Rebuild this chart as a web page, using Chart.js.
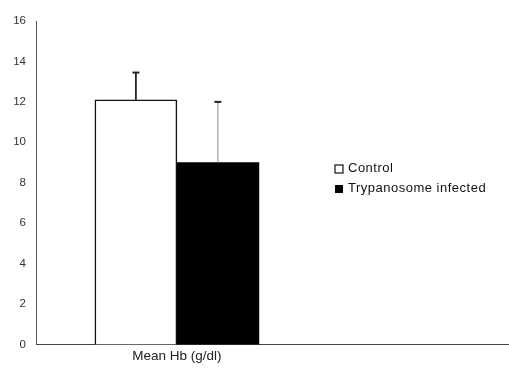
<!DOCTYPE html>
<html>
<head>
<meta charset="utf-8">
<script src="https://cdn.jsdelivr.net/npm/chart.js@4/dist/chart.umd.min.js"></script>
<style>
html,body{margin:0;padding:0;background:#fff;}
#wrap{width:509px;height:368px;position:relative;}
</style>
</head>
<body>
<div id="wrap"><canvas id="c"></canvas></div>
<script>
// ---- data ----
const categories = ["Mean Hb (g/dl)"];
const categoryPos = [1];
const seriesNames = ["Control", "Trypanosome infected"];
const controlValues = [12.1];
const controlErr = [1.35];
const infectedValues = [9.0];
const infectedErr = [3.0];
const yTicks = [0, 2, 4, 6, 8, 10, 12, 14, 16];

const FONT = "'Liberation Sans', Arial, sans-serif";

const errorBars = {
  id: 'errorBars',
  afterDatasetsDraw(chart) {
    const ctx = chart.ctx;
    const y = chart.scales.y;
    chart.data.datasets.forEach((ds, i) => {
      const meta = chart.getDatasetMeta(i);
      meta.data.forEach((bar, j) => {
        const v = ds.data[j].y, e = ds.errors[j];
        const top = y.getPixelForValue(v + e);
        const base = y.getPixelForValue(v);
        ctx.save();
        ctx.strokeStyle = ds.errColor;
        ctx.lineWidth = ds.errWidth;
        ctx.beginPath();
        ctx.moveTo(bar.x, base);
        ctx.lineTo(bar.x, top);
        ctx.stroke();
        ctx.strokeStyle = '#222';
        ctx.lineWidth = 2;
        ctx.beginPath();
        ctx.moveTo(bar.x - 3.5, top);
        ctx.lineTo(bar.x + 3.5, top);
        ctx.stroke();
        ctx.restore();
      });
    });
  }
};

const customLegend = {
  id: 'customLegend',
  afterDraw(chart, args, opts) {
    const ctx = chart.ctx;
    ctx.save();
    ctx.font = '13px ' + FONT;
    if ('letterSpacing' in ctx) ctx.letterSpacing = '0.5px';
    ctx.textBaseline = 'middle';
    chart.data.datasets.forEach((ds, i) => {
      const yy = opts.y + i * opts.row;
      if (i === 0) {
        ctx.fillStyle = '#fff';
        ctx.fillRect(opts.x, yy - 3, 8, 8);
        ctx.strokeStyle = '#111';
        ctx.lineWidth = 1.2;
        ctx.strokeRect(opts.x, yy - 3, 8, 8);
      } else {
        ctx.fillStyle = '#000';
        ctx.fillRect(opts.x, yy - 3, 8, 8);
      }
      ctx.fillStyle = '#111';
      ctx.fillText(ds.label, opts.x + 13, yy);
    });
    ctx.restore();
  }
};

new Chart(document.getElementById('c'), {
  type: 'bar',
  data: {
    datasets: [
      {
        label: seriesNames[0],
        data: categoryPos.map((x, i) => ({x: x, y: controlValues[i]})),
        errors: controlErr,
        backgroundColor: '#fff',
        borderColor: '#111',
        borderWidth: 1.5,
        errColor: '#222',
        errWidth: 1.8
      },
      {
        label: seriesNames[1],
        data: categoryPos.map((x, i) => ({x: x, y: infectedValues[i]})),
        errors: infectedErr,
        backgroundColor: '#000',
        borderWidth: 0,
        errColor: '#888',
        errWidth: 1
      }
    ]
  },
  options: {
    responsive: true,
    maintainAspectRatio: false,
    animation: false,
    barThickness: 82,
    layout: {padding: {top: 21, right: 1, left: 0, bottom: 0}},
    plugins: {
      legend: {display: false},
      tooltip: {enabled: false},
      customLegend: {x: 335, y: 168, row: 20}
    },
    scales: {
      x: {
        type: 'linear',
        offset: false,
        min: 0,
        max: 3.35,
        grid: {display: false, drawTicks: false, offset: false},
        border: {display: true, color: '#444', width: 1},
        ticks: {
          stepSize: 1,
          padding: 4,
          autoSkip: false,
          maxRotation: 0,
          color: '#222',
          font: {family: FONT, size: 13.5},
          callback: (v) => { const k = categoryPos.indexOf(v); return k >= 0 ? categories[k] : ''; }
        },
        afterBuildTicks: (s) => { s.ticks = s.ticks.filter(t => categoryPos.includes(t.value)); },
        afterFit: (s) => { s.height = 23.5; }
      },
      y: {
        min: 0,
        max: 16,
        grid: {display: false, drawTicks: false},
        border: {display: true, color: '#555', width: 1},
        afterBuildTicks: (s) => { s.ticks = yTicks.map(v => ({value: v})); },
        ticks: {
          padding: 10,
          color: '#333',
          font: {family: FONT, size: 11.5}
        },
        afterFit: (s) => { s.width = 36; }
      }
    }
  },
  plugins: [errorBars, customLegend]
});
</script>
</body>
</html>
